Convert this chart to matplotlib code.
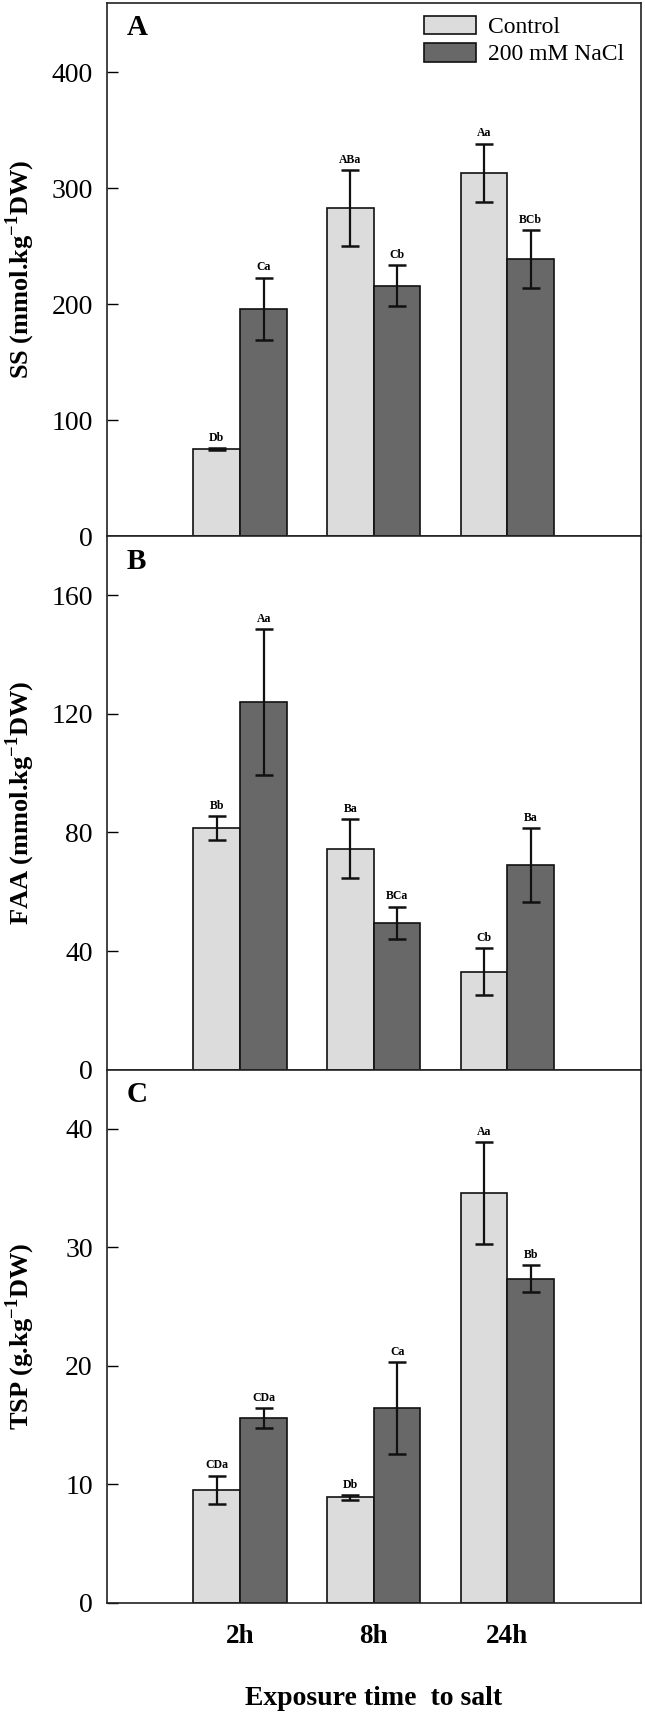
import matplotlib
matplotlib.use("Agg")
import matplotlib.pyplot as plt
import numpy as np

plt.rcParams['font.family'] = ['Liberation Serif', 'DejaVu Serif']
plt.rcParams['mathtext.fontset'] = 'custom'
plt.rcParams['mathtext.rm'] = 'Liberation Serif'
plt.rcParams['mathtext.bf'] = 'Liberation Serif:bold'

# donnees
temps = ["2h", "8h", "24h"]
series = ["Control", "200 mM NaCl"]

ssControl = [75, 283, 313.5]
ssControlErr = [1, 33, 25]
ssNaCl = [196, 216, 239]
ssNaClErr = [27, 17.5, 25]
ssLettresControl = ["Db", "ABa", "Aa"]
ssLettresNaCl = ["Ca", "Cb", "BCb"]

faaControl = [81.5, 74.5, 33]
faaControlErr = [4, 10, 8]
faaNaCl = [124, 49.5, 69]
faaNaClErr = [24.5, 5.5, 12.5]
faaLettresControl = ["Bb", "Ba", "Cb"]
faaLettresNaCl = ["Aa", "BCa", "Ba"]

tspControl = [9.55, 8.9, 34.6]
tspControlErr = [1.2, 0.2, 4.3]
tspNaCl = [15.6, 16.45, 27.35]
tspNaClErr = [0.85, 3.9, 1.15]
tspLettresControl = ["CDa", "Db", "Aa"]
tspLettresNaCl = ["CDa", "Ca", "Bb"]

panneaux = [
	("A", r"SS (mmol.kg$^{\mathbf{-1}}$DW)", 460, [0, 100, 200, 300, 400],
		ssControl, ssControlErr, ssNaCl, ssNaClErr, ssLettresControl, ssLettresNaCl),
	("B", r"FAA (mmol.kg$^{\mathbf{-1}}$DW)", 180, [0, 40, 80, 120, 160],
		faaControl, faaControlErr, faaNaCl, faaNaClErr, faaLettresControl, faaLettresNaCl),
	("C", r"TSP (g.kg$^{\mathbf{-1}}$DW)", 45, [0, 10, 20, 30, 40],
		tspControl, tspControlErr, tspNaCl, tspNaClErr, tspLettresControl, tspLettresNaCl),
]

couleurControl = "#dcdcdc"
couleurNaCl = "#686868"
largeur = 0.35

fig, axes = plt.subplots(3, 1, figsize=(6.45, 17.12), dpi=100)
fig.subplots_adjust(left=0.1654, right=0.9935, top=0.9984, bottom=0.0637, hspace=0)

X = np.arange(1, len(temps) + 1)

for i in range(len(panneaux)):
	ax = axes[i]
	lettre, label, ymax, ticks, ctrl, ctrlErr, nacl, naclErr, lettresCtrl, lettresNacl = panneaux[i]

	errStyle = dict(ecolor="#111111", elinewidth=1.6, capsize=6.7, capthick=1.8)
	ax.bar(X - largeur / 2, ctrl, largeur, yerr=ctrlErr, color=couleurControl,
		edgecolor="#111111", linewidth=1.2, error_kw=errStyle, label=series[0])
	ax.bar(X + largeur / 2, nacl, largeur, yerr=naclErr, color=couleurNaCl,
		edgecolor="#111111", linewidth=1.2, error_kw=errStyle, label=series[1])

	for k in range(len(temps)):
		ax.annotate(lettresCtrl[k], (X[k] - largeur / 2, ctrl[k] + ctrlErr[k]),
			xytext=(0, 3), textcoords="offset points", ha="center", va="bottom",
			fontsize=8.5, fontweight="bold")
		ax.annotate(lettresNacl[k], (X[k] + largeur / 2, nacl[k] + naclErr[k]),
			xytext=(0, 3), textcoords="offset points", ha="center", va="bottom",
			fontsize=8.5, fontweight="bold")

	ax.set_xlim(0, 4)
	ax.set_ylim(0, ymax)
	ax.set_yticks(ticks)
	ax.tick_params(axis="y", direction="in", length=8, width=1, labelsize=20, pad=10)
	ax.tick_params(axis="x", length=0, pad=15)
	ax.set_xticks(X)
	if i == 2:
		ax.set_xticklabels(temps, fontsize=19.5, fontweight="bold")
	else:
		ax.set_xticklabels([])

	for cote in ax.spines:
		ax.spines[cote].set_linewidth(1.2)
		ax.spines[cote].set_color("#222222")

	ax.set_ylabel(label, fontsize=19, fontweight="bold")
	ax.yaxis.set_label_coords(-0.13, 0.5)

	ax.text(0.037, 0.978, lettre, transform=ax.transAxes, fontsize=21,
		fontweight="bold", ha="left", va="top")

axes[0].legend(loc="upper left", bbox_to_anchor=(0.594, 0.976), frameon=False,
	fontsize=17, handlelength=2.2, handleheight=0.85, handletextpad=0.5,
	labelspacing=0.2, borderpad=0, borderaxespad=0)

axes[2].set_xlabel("Exposure time  to salt", fontsize=20, fontweight="bold", labelpad=27)

plt.savefig("out.png", dpi=100)
